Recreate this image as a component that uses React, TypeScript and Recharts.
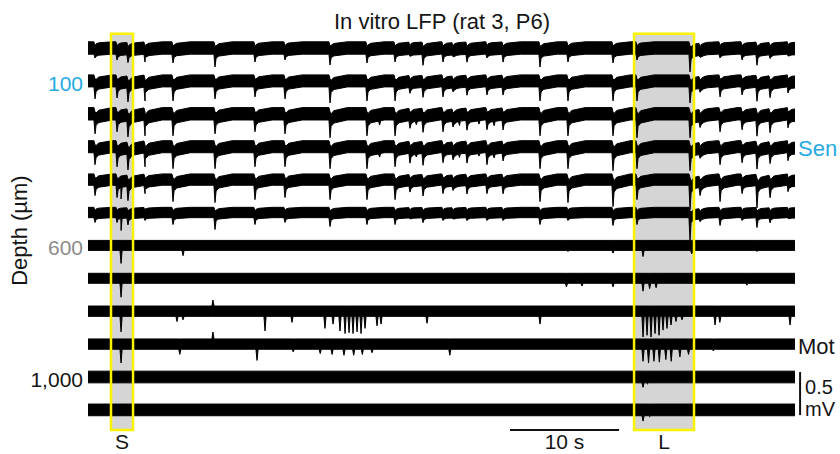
import React from 'react';
import { ComposedChart, Area, XAxis, YAxis, ReferenceArea, ReferenceLine } from 'recharts';

const FONT = '"Liberation Sans", Arial, Helvetica, sans-serif';

// ---- axes / scale values ----
const TIME_MAX = 65.46; // seconds shown
const DEPTH_MIN = -60; // µm (axis domain)
const DEPTH_MAX = 1170;
const UNITS_PER_UV = 0.2614; // depth units per µV on the display (0.5 mV bar = 130.7)

const channelDepths = [0, 100, 200, 300, 400, 500, 600, 700, 800, 900, 1000, 1100];
const depthTicks = [100, 600, 1000];
const depthTickColors = ['#27aae1', '#8c8c8c', '#151515'];
const regionTicks = [300, 900];
const regionLabels = ['Sen', 'Mot'];
const regionColors = ['#27aae1', '#151515'];

// ---- signal values (µV) ----
const bandHalfWidth = [72, 70, 72, 70, 66, 60, 58, 58, 60, 60, 68, 68];
const roofRatio = [0.25, 0.3, 0.32, 0.32, 0.3, 0.2, 0, 0, 0, 0, 0, 0];
// post-event recovery profile: time after event (s) and remaining fraction of the sag
const roofKnotTimes = [0, 0.35, 1.6];
const roofKnotFrac = [1, 0.4, 0];

// population events (s)
const eventTimes = [
  0.65, 2.69, 3.7, 5.28, 7.87, 11.76, 15.46, 18.24, 22.41, 25.83, 28.43, 29.81, 31.02, 32.87, 33.8,
  35.09, 36.94, 38.43, 41.85, 44.44, 48.61, 50.83, 55.74, 56.67, 58.52, 60.56, 61.94, 63.15, 64.81,
];
// event amplitude (µV, downward) on channels 1-6
const eventDepths = [
  [116, 140, 163, 163, 174, 221, 163, 140, 198, 174, 163, 93, 198, 163, 93, 163, 116, 163, 221, 163, 174, 140, 279, 93, 116, 140, 198, 116, 93],
  [209, 198, 233, 233, 233, 209, 186, 209, 256, 233, 233, 140, 186, 186, 116, 163, 163, 163, 233, 233, 233, 233, 256, 116, 186, 163, 233, 186, 140],
  [233, 209, 256, 256, 256, 233, 209, 233, 279, 256, 256, 163, 209, 209, 140, 186, 186, 186, 256, 256, 256, 279, 279, 140, 209, 186, 256, 209, 163],
  [209, 233, 256, 233, 256, 256, 233, 233, 256, 256, 233, 186, 209, 186, 140, 186, 209, 163, 256, 256, 279, 256, 279, 116, 209, 186, 256, 186, 163],
  [186, 209, 233, 163, 256, 267, 233, 209, 233, 233, 233, 140, 186, 163, 116, 163, 163, 163, 256, 267, 314, 233, 349, 163, 256, 163, 326, 198, 140],
  [116, 116, 140, 93, 140, 198, 140, 116, 163, 140, 140, 70, 116, 93, 70, 93, 93, 93, 140, 93, 151, 140, 326, 93, 151, 93, 174, 116, 70],
];
// extra fast spikes per channel: [time s, amplitude µV] (negative = upward)
const extraSpikes: [number, number][][] = [
  [],
  [],
  [[27.0, 120], [30.4, 110], [34.4, 120], [36.2, 110], [37.6, 120]],
  [[27.0, 110], [30.4, 100], [34.4, 110], [36.2, 100], [37.6, 110]],
  [[3.06, 200]],
  [[3.06, 200]],
  [[3.06, 210], [8.8, 120], [44.44, 70], [48.61, 90], [51.39, 130], [55.9, 100], [61.94, 70]],
  [[3.06, 220], [44.3, 100], [45.74, 90], [48.61, 100], [51.39, 150], [52.0, 120], [52.6, 110], [61.0, 80]],
  [
    [3.06, 240], [8.24, 120], [8.8, 100], [11.57, -130], [16.39, 230], [18.89, 130], [21.94, 200], [22.69, 150],
    [23.33, 230], [23.8, 260], [24.17, 250], [24.54, 260], [24.91, 240], [25.28, 260], [25.65, 200], [26.76, 170],
    [27.13, 150], [31.39, 140], [41.85, 150], [51.39, 300], [51.76, 280], [52.13, 300], [52.5, 260], [52.87, 280],
    [53.24, 220], [53.61, 200], [53.98, 160], [54.44, 120], [55.0, 100], [58.06, 160], [58.5, 130], [65.0, 160],
  ],
  [
    [3.06, 220], [8.5, 120], [11.57, -140], [15.65, 190], [19.0, 90], [21.5, 110], [22.6, 120], [23.7, 130],
    [24.6, 130], [25.4, 120], [26.3, 100], [33.5, 130], [51.39, 200], [51.9, 220], [52.4, 200], [52.9, 210],
    [53.5, 180], [54.0, 200], [54.8, 150], [55.6, 120], [57.9, 80],
  ],
  [[51.39, 120], [51.8, 80]],
  [[51.39, 130], [52.0, 80]],
];

// ---- annotations ----
const sBox = [2.13, 4.17];
const lBox = [50.56, 56.11];
const boxDepth = [-43, 1161];
const timeBar = [39.07, 49.17];
const timeBarDepth = 1161;
const voltBarTime = 65.93;
const voltBarTop = 985;
const voltBarMv = 0.5;

type Ev = { t: number; a: number; roof: boolean };
type Pt = { t: number; v: [number, number] };

function roofFrac(dt: number): number {
  for (let k = 1; k < roofKnotTimes.length; k++) {
    if (dt < roofKnotTimes[k]) {
      const t0 = roofKnotTimes[k - 1];
      const t1 = roofKnotTimes[k];
      const f0 = roofKnotFrac[k - 1];
      const f1 = roofKnotFrac[k];
      return f0 + ((f1 - f0) * (dt - t0)) / (t1 - t0);
    }
  }
  return 0;
}

function buildTrace(i: number): Pt[] {
  const w = bandHalfWidth[i];
  const depth = channelDepths[i];
  const evs: Ev[] = [];
  if (i < eventDepths.length) eventTimes.forEach((t, k) => evs.push({ t, a: eventDepths[i][k], roof: true }));
  extraSpikes[i].forEach(([t, a]) => evs.push({ t, a, roof: false }));
  evs.sort((p, q) => p.t - q.t);
  const ratio = roofRatio[i];
  const roofs = evs.filter((e) => e.roof && ratio > 0);
  const sag = (t: number, inclusive: boolean) =>
    roofs.reduce((s, e) => {
      const dt = t - e.t;
      if (dt < 0 || (!inclusive && dt === 0)) return s;
      return s + e.a * ratio * roofFrac(dt);
    }, 0);
  const raw: { t: number; lo: number; hi: number; o: number }[] = [];
  const band = (t: number, o: number) => {
    const s = sag(t, true);
    raw.push({ t, lo: -w - s, hi: w - s, o });
  };
  band(0, 0);
  band(TIME_MAX, 0);
  evs.forEach((e) => {
    band(e.t - 0.1, 0);
    const s = sag(e.t, false);
    if (e.a >= 0) raw.push({ t: e.t, lo: -e.a - s, hi: (e.roof ? w * 0.3 : w) - s, o: 1 });
    else raw.push({ t: e.t, lo: -w - s, hi: -e.a - s, o: 1 });
    band(e.t + 0.1, 2);
    if (e.roof && ratio > 0) roofKnotTimes.slice(1).forEach((dk) => band(e.t + dk, 0));
  });
  return raw
    .filter((p) => p.t >= 0 && p.t <= TIME_MAX)
    .sort((p, q) => p.t - q.t || p.o - q.o)
    .map((p) => ({ t: p.t, v: [depth - p.lo * UNITS_PER_UV, depth - p.hi * UNITS_PER_UV] as [number, number] }));
}

const DepthTick = (p: any) => {
  const idx = depthTicks.indexOf(p.payload.value);
  return (
    <text x={p.x} y={p.y + 10} textAnchor="end" fontSize={21} fontFamily={FONT} fill={depthTickColors[idx]}>
      {Number(p.payload.value).toLocaleString('en-US')}
    </text>
  );
};

const RegionTick = (p: any) => {
  const idx = regionTicks.indexOf(p.payload.value);
  return (
    <text x={p.x} y={p.y + 9.5} textAnchor="start" fontSize={22} fontFamily={FONT} fill={regionColors[idx]}>
      {regionLabels[idx]}
    </text>
  );
};

const DepthLabel = (p: any) => {
  const vb = p.viewBox || { x: 0, y: 28, width: 88, height: 405 };
  return (
    <text
      transform={`translate(${vb.x + 27}, ${vb.y + vb.height / 2}) rotate(-90)`}
      textAnchor="middle"
      fontSize={22}
      fontFamily={FONT}
      fill="#151515"
    >
      Depth (µm)
    </text>
  );
};

const VoltLabel = (p: any) => {
  const vb = p.viewBox;
  if (!vb) return null;
  return (
    <g>
      <text x={vb.x + 5} y={vb.y + 22} fontSize={20} fontFamily={FONT} fill="#151515">0.5</text>
      <text x={vb.x + 5} y={vb.y + vb.height + 1} fontSize={20} fontFamily={FONT} fill="#151515">mV</text>
    </g>
  );
};

export default function App() {
  const traces = channelDepths.map((_, i) => buildTrace(i));
  const labelStyle = { fontSize: 21, fill: '#151515', fontFamily: FONT };
  return (
    <div style={{ position: 'absolute', left: 0, top: 0, width: 840, height: 454, background: '#fff' }}>
      <ComposedChart
        width={840}
        height={454}
        margin={{ top: 28.26, right: 0, bottom: 21.07, left: 0 }}
        style={{ position: 'absolute', left: 0, top: 0 }}
      >
        <XAxis dataKey="t" type="number" domain={[0, TIME_MAX]} hide allowDataOverflow />
        <YAxis
          yAxisId="d"
          type="number"
          domain={[DEPTH_MIN, DEPTH_MAX]}
          reversed
          allowDataOverflow
          ticks={depthTicks}
          interval={0}
          width={88}
          axisLine={false}
          tickLine={false}
          tickSize={0}
          tickMargin={5}
          tick={DepthTick}
          label={{ content: DepthLabel }}
        />
        <YAxis
          yAxisId="r"
          orientation="right"
          type="number"
          domain={[DEPTH_MIN, DEPTH_MAX]}
          reversed
          allowDataOverflow
          ticks={regionTicks}
          interval={0}
          width={45}
          axisLine={false}
          tickLine={false}
          tickSize={0}
          tickMargin={3}
          tick={RegionTick}
        />
        <ReferenceArea
          yAxisId="d"
          x1={sBox[0]}
          x2={sBox[1]}
          y1={boxDepth[0]}
          y2={boxDepth[1]}
          fill="#d5d5d5"
          fillOpacity={1}
          stroke="none"
          ifOverflow="visible"
          zIndex={50}
          label={{ value: 'S', position: 'bottom', offset: 4.5, ...labelStyle }}
        />
        <ReferenceArea
          yAxisId="d"
          x1={lBox[0]}
          x2={lBox[1]}
          y1={boxDepth[0]}
          y2={boxDepth[1]}
          fill="#d5d5d5"
          fillOpacity={1}
          stroke="none"
          ifOverflow="visible"
          zIndex={50}
          label={{ value: 'L', position: 'bottom', offset: 4.5, ...labelStyle }}
        />
        {traces.map((data, i) => (
          <Area
            key={i}
            yAxisId="d"
            data={data}
            dataKey="v"
            type="linear"
            stroke="#000"
            strokeWidth={1}
            fill="#000"
            fillOpacity={1}
            dot={false}
            activeDot={false}
            isAnimationActive={false}
            zIndex={100}
          />
        ))}
        <ReferenceArea
          yAxisId="d"
          x1={sBox[0]}
          x2={sBox[1]}
          y1={boxDepth[0]}
          y2={boxDepth[1]}
          fill="none"
          fillOpacity={0}
          stroke="#faf200"
          strokeWidth={2.5}
          ifOverflow="visible"
          zIndex={150}
        />
        <ReferenceArea
          yAxisId="d"
          x1={lBox[0]}
          x2={lBox[1]}
          y1={boxDepth[0]}
          y2={boxDepth[1]}
          fill="none"
          fillOpacity={0}
          stroke="#faf200"
          strokeWidth={2.5}
          ifOverflow="visible"
          zIndex={150}
        />
        <ReferenceLine
          yAxisId="d"
          segment={[
            { x: timeBar[0], y: timeBarDepth },
            { x: timeBar[1], y: timeBarDepth },
          ]}
          stroke="#111"
          strokeWidth={2}
          ifOverflow="visible"
          zIndex={150}
          label={{ value: '10 s', position: 'bottom', offset: 4.5, ...labelStyle }}
        />
        <ReferenceLine
          yAxisId="d"
          segment={[
            { x: voltBarTime, y: voltBarTop },
            { x: voltBarTime, y: voltBarTop + voltBarMv * 1000 * UNITS_PER_UV },
          ]}
          stroke="#111"
          strokeWidth={2}
          ifOverflow="visible"
          zIndex={150}
          label={{ content: VoltLabel }}
        />
      </ComposedChart>
      <svg width={840} height={454} style={{ position: 'absolute', left: 0, top: 0, pointerEvents: 'none' }}>
        <text x={442} y={29} textAnchor="middle" fontSize={22} fontFamily={FONT} fill="#151515">
          In vitro LFP (rat 3, P6)
        </text>
      </svg>
    </div>
  );
}
